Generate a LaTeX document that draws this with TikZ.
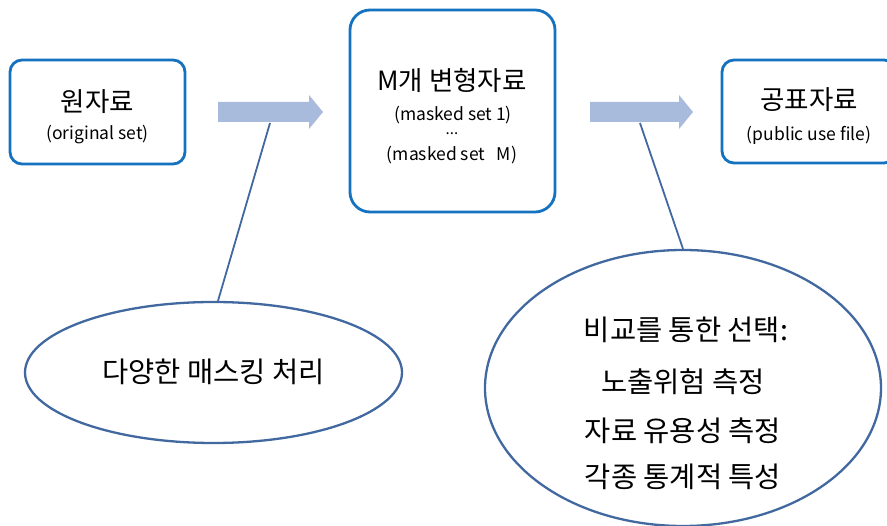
\documentclass[tikz,border=0pt]{standalone}
\usepackage{fontspec}
\setmainfont{Noto Sans CJK KR}
\usetikzlibrary{shapes.geometric}
\definecolor{boxblue}{RGB}{20,114,192}
\definecolor{arrowfill}{RGB}{168,187,220}
\definecolor{linkblue}{RGB}{66,104,160}
\tikzset{
  databox/.style={draw=boxblue, line width=2.8pt, fill=white, align=center, inner sep=0pt},
  bigtxt/.style={font=\fontsize{26.5}{30}\selectfont, inner sep=1pt},
  elltxt/.style={font=\fontsize{28.5}{32}\selectfont, inner sep=1pt},
  smalltxt/.style={font=\fontsize{17.5}{20}\selectfont, inner sep=0pt},
  bubble/.style={ellipse, draw=linkblue, line width=2.3pt, align=center, inner sep=0pt},
  link/.style={draw=linkblue, line width=1.8pt},
  flow/.style={fill=arrowfill, draw=none}
}
\begin{document}
\begin{tikzpicture}[x=1pt,y=-1pt]
\useasboundingbox (0,0) rectangle (887,526);
% boxes
\draw[databox, rounded corners=12pt] (10,60) rectangle (185,164);
\node[bigtxt] (orig) at (97.5,102) {원자료};
\node[smalltxt] (origsub) at (97.5,135) {(original set)};

\draw[databox, rounded corners=20pt] (350,10) rectangle (555,212);
\node[bigtxt] (masked) at (452,80) {M개 변형자료};
\node[smalltxt] (m1) at (453,115) {(masked set 1)};
\node[font=\fontsize{15}{16}\selectfont, inner sep=0pt, text height=2pt, text depth=0pt, anchor=base] (dots) at (452,135) {...};
\node[smalltxt] (mM) at (452,155) {(masked set \ \ M)};

\draw[databox, rounded corners=12pt] (722,60) rectangle (896,163);
\node[bigtxt] (pub) at (809,100) {공표자료};
\node[smalltxt] (pubsub) at (809,135) {(public use file)};

% block arrows
\fill[flow] (218,102) -- (309,102) -- (309,95) -- (323,112) -- (309,129) -- (309,122) -- (218,122) -- cycle;
\fill[flow] (590,102) -- (679,102) -- (679,95) -- (693,112) -- (679,129) -- (679,122) -- (590,122) -- cycle;

% ellipses
\node[bubble, minimum width=377pt, minimum height=141pt] (e1) at (213.5,372.5) {};
\node[elltxt] (e1t) at (213.5,372) {다양한 매스킹 처리};

\node[bubble, minimum width=396pt, minimum height=276pt] (e2) at (683,388) {};
\node[elltxt] (e2a) at (686,330) {비교를 통한 선택:};
\node[elltxt] (e2b) at (683,382) {노출위험 측정};
\node[elltxt] (e2c) at (683,431) {자료 유용성 측정};
\node[elltxt] (e2d) at (683,477) {각종 통계적 특성};

% connectors
\coordinate (c1) at (270,123);
\coordinate (c2) at (640,123);
\draw[link] (c1) -- (e1.north -| 218,0);
\draw[link] (c2) -- (e2.north);
\end{tikzpicture}
\end{document}
